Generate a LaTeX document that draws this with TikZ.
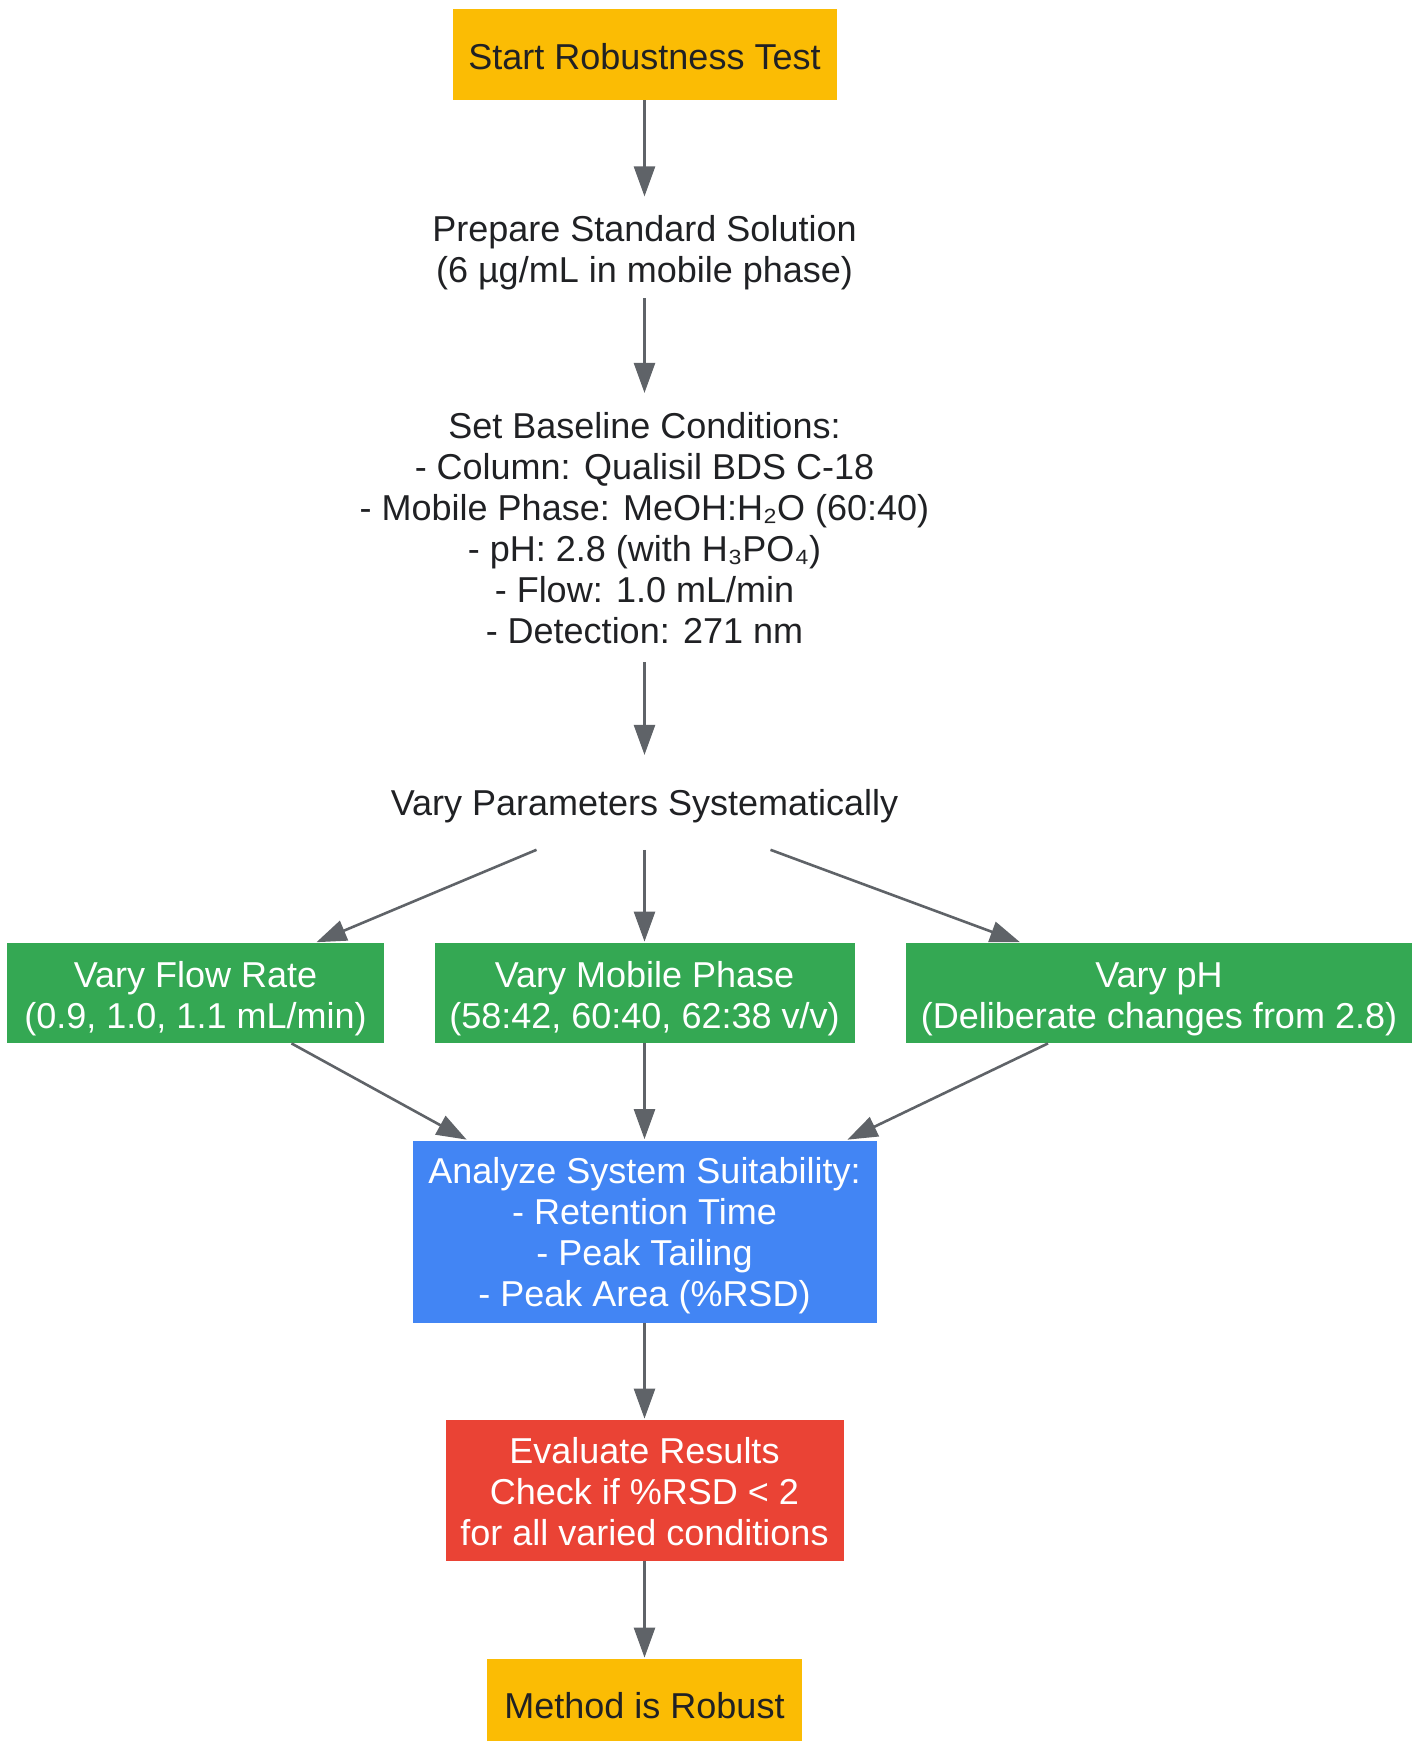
\documentclass[tikz,border=0pt]{standalone}
\usepackage{fontspec}
\setmainfont{Liberation Sans}
\usetikzlibrary{arrows.meta}
\definecolor{gyellow}{HTML}{FBBC04}
\definecolor{ggreen}{HTML}{34A853}
\definecolor{gblue}{HTML}{4285F4}
\definecolor{gred}{HTML}{EA4335}
\definecolor{txtdark}{HTML}{202124}
\definecolor{linegray}{HTML}{5F6368}
\newcommand\dropline[1]{\rule{0pt}{#1}} % taller first line, so the text sits lower in its box
\tikzset{
  step box/.style={rectangle,inner sep=0pt,align=center,text=txtdark,
    font=\fontsize{18}{20.5}\selectfont},
  drop/.style={execute at begin node={\dropline{#1}}},
  startend/.style={step box,fill=gyellow},
  variant/.style={step box,fill=ggreen,text=white,minimum height=50pt},
  analysis/.style={step box,fill=gblue,text=white},
  verdict/.style={step box,fill=gred,text=white},
  flow arrow/.style={-{Triangle[length=15pt,width=10.5pt]},draw=linegray,fill=linegray,
    line width=1.3pt,shorten >=0.5pt}
}
\begin{document}
\begin{tikzpicture}[x=0.5pt,y=-0.5pt]
\useasboundingbox (0,0) rectangle (1418,1741);
% main column
\node[startend,drop=15.1pt,minimum width=192pt,minimum height=45.5pt] (start) at (644.5,54.5) {Start Robustness Test};
\node[step box,minimum width=210pt,minimum height=49.9pt] (prep) at (644.5,247.7) {\dropline{18pt}Prepare Standard Solution\\(6 µg/mL in mobile phase)};
\node[step box,minimum width=260pt,minimum height=133.7pt] (base) at (644.5,528) {\dropline{13.45pt}Set Baseline Conditions:\\- Column: Qualisil BDS C-18\\- Mobile Phase: MeOH:H₂O (60:40)\\- pH: 2.8 (with H₃PO₄)\\- Flow: 1.0 mL/min\\- Detection: 271 nm};
\node[step box,drop=16.55pt,minimum width=240pt,minimum height=46.55pt] (vary) at (644.5,802.85) {Vary Parameters Systematically};
% the three variations
\node[variant,minimum width=188.5pt] (flowrate) at (195.5,993) {\dropline{18.4pt}Vary Flow Rate\\(0.9, 1.0, 1.1 mL/min)};
\node[variant,minimum width=210pt] (mobile) at (644.5,993) {\dropline{18.4pt}Vary Mobile Phase\\(58:42, 60:40, 62:38 v/v)};
\node[variant,minimum width=253pt] (ph) at (1159,993) {\dropline{18.4pt}Vary pH\\(Deliberate changes from 2.8)};
% checks and result
\node[analysis,minimum width=232pt,minimum height=91pt] (suit) at (644.5,1231.5) {\dropline{17.3pt}Analyze System Suitability:\\- Retention Time\\- Peak Tailing\\- Peak Area (\%RSD)};
\node[verdict,minimum width=199pt,minimum height=70.5pt] (eval) at (644.5,1490.5) {\dropline{14pt}Evaluate Results\\Check if \%RSD < 2\\for all varied conditions};
\node[startend,drop=14pt,minimum width=157.5pt,minimum height=46pt] (robust) at (644.5,1705) {Method is Robust};
\draw[flow arrow] (start) -- (prep);
\draw[flow arrow] (prep) -- (base);
\draw[flow arrow] (base) -- (vary);
\draw[flow arrow] ([xshift=-54pt]vary.south) -- ([xshift=60pt]flowrate.north);
\draw[flow arrow] (vary) -- (mobile);
\draw[flow arrow] ([xshift=63pt]vary.south) -- ([xshift=-69pt]ph.north);
\draw[flow arrow] ([xshift=48pt]flowrate.south) -- ([xshift=-88.5pt]suit.north);
\draw[flow arrow] (mobile) -- (suit);
\draw[flow arrow] ([xshift=-55.5pt]ph.south) -- ([xshift=101pt]suit.north);
\draw[flow arrow] (suit) -- (eval);
\draw[flow arrow] (eval) -- (robust);
\end{tikzpicture}
\end{document}
